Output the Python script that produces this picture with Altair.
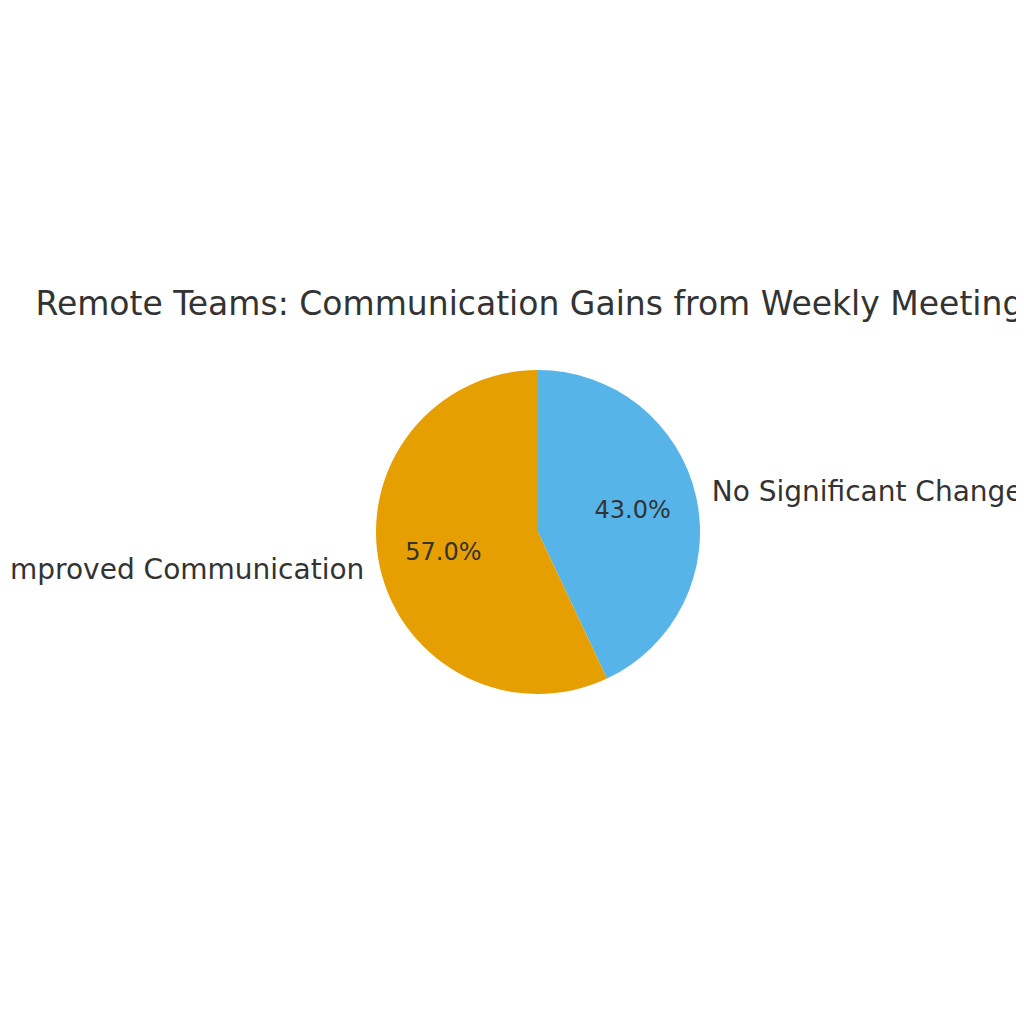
import math
import altair as alt
import pandas as pd

# Data (drawn clockwise from 12 o'clock)
categories = ["No Significant Change", "Improved Communication"]
shares = [43.0, 57.0]
colors = ["#56B4E9", "#E69F00"]
order = [0, 1]
title_text = "Remote Teams: Communication Gains from Weekly Meetings"

df = pd.DataFrame({"category": categories, "share": shares, "order": order})

base = (
    alt.Chart(df)
    .transform_joinaggregate(total="sum(share)")
    .transform_window(cum="sum(share)", sort=[alt.SortField("order")], frame=[None, 0])
    .transform_calculate(
        start="(datum.cum - datum.share) / datum.total",
        end="datum.cum / datum.total",
        mid="(datum.cum - datum.share / 2) / datum.total",
        pct="format(datum.share / datum.total * 100, '.1f') + '%'",
    )
)

theta_scale = alt.Scale(domain=[0, 1], range=[0, 2 * math.pi])
FONT = "DejaVu Sans"
TXT = "#333333"

arcs = base.mark_arc(stroke=None).encode(
    theta=alt.Theta("start:Q", scale=theta_scale, stack=None),
    theta2="end:Q",
    color=alt.Color("category:N", scale=alt.Scale(domain=categories, range=colors), legend=None),
)

pct_text = base.mark_text(radius=97, fontSize=24, font=FONT, color=TXT, baseline="middle").encode(
    theta=alt.Theta("mid:Q", scale=theta_scale, stack=None),
    text="pct:N",
)

right_labels = base.transform_filter("datum.mid < 0.5").mark_text(
    radius=178, align="left", baseline="middle", fontSize=28, font=FONT, color=TXT
).encode(
    theta=alt.Theta("mid:Q", scale=theta_scale, stack=None),
    text="category:N",
)

left_labels = base.transform_filter("datum.mid >= 0.5").mark_text(
    radius=178, align="right", baseline="middle", fontSize=28, font=FONT, color=TXT
).encode(
    theta=alt.Theta("mid:Q", scale=theta_scale, stack=None),
    text="category:N",
)

chart = (
    alt.layer(arcs, pct_text, right_labels, left_labels)
    .properties(
        width=324,
        height=324,
        padding={"left": 368, "top": 362, "right": 316, "bottom": 322},
        autosize=alt.AutoSizeParams(type="none"),
        title=alt.TitleParams(
            text=title_text,
            fontSize=33,
            font=FONT,
            fontWeight="normal",
            color=TXT,
            anchor="middle",
            baseline="alphabetic",
            offset=22,
        ),
    )
    .configure_view(stroke=None)
)

chart.save("out.html", embed_options={"renderer": "svg", "actions": False})
